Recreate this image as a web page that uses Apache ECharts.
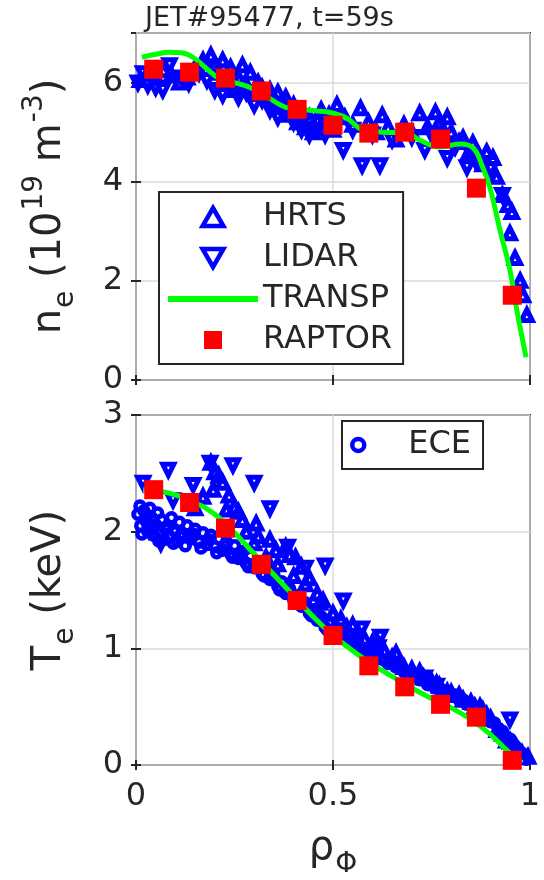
<!DOCTYPE html>
<html>
<head>
<meta charset="utf-8">
<title>JET#95477 profiles</title>
<script src="https://cdn.jsdelivr.net/npm/echarts@6/dist/echarts.min.js"></script>
<style>
  html, body { margin: 0; padding: 0; background: #fff; }
  #chart { width: 544px; height: 880px; }
</style>
</head>
<body>
<div id="chart"></div>
<script>
// ---- n_e panel (10^19 m^-3) ----
var hrtsNeRho = [0.01, 0.03, 0.05, 0.07, 0.09, 0.11, 0.13, 0.15, 0.17, 0.19, 0.20, 0.21, 0.22, 0.23, 0.24, 0.25, 0.26, 0.27, 0.28, 0.29, 0.30, 0.31, 0.32, 0.33, 0.34, 0.35, 0.36, 0.37, 0.38, 0.39, 0.40, 0.41, 0.42, 0.43, 0.44, 0.45, 0.46, 0.47, 0.48, 0.49, 0.50, 0.51, 0.53, 0.55, 0.57, 0.59, 0.61, 0.625, 0.64, 0.66, 0.68, 0.70, 0.72, 0.74, 0.76, 0.77, 0.79, 0.80, 0.82, 0.83, 0.845, 0.855, 0.87, 0.88, 0.89, 0.906, 0.915, 0.93, 0.944, 0.954, 0.949, 0.962, 0.975, 0.982, 0.992];
var hrtsNe    = [6.05, 6.2, 6.1, 6.25, 6.15, 6.0, 6.1, 6.3, 6.45, 6.55, 6.35, 6.2, 6.45, 6.0, 6.3, 5.85, 6.1, 6.35, 5.95, 6.2, 5.8, 6.0, 5.9, 5.7, 5.85, 5.6, 5.8, 5.5, 5.7, 5.35, 5.55, 5.2, 5.4, 5.1, 5.3, 5.0, 5.25, 5.45, 5.15, 5.35, 5.05, 5.55, 5.3, 5.15, 5.48, 5.2, 5.0, 5.34, 5.1, 4.85, 5.15, 5.0, 5.38, 5.1, 5.4, 5.2, 5.3, 5.0, 4.8, 4.88, 4.6, 4.78, 4.5, 4.35, 4.6, 4.48, 4.1, 3.73, 3.53, 3.39, 2.96, 2.46, 2.0, 1.71, 1.31];

var lidarNeRho = [0.005, 0.018, 0.03, 0.05, 0.068, 0.085, 0.10, 0.134, 0.16, 0.18, 0.20, 0.22, 0.24, 0.26, 0.28, 0.30, 0.32, 0.34, 0.36, 0.38, 0.40, 0.42, 0.44, 0.46, 0.48, 0.526, 0.55, 0.574, 0.60, 0.619, 0.65, 0.70, 0.733, 0.75, 0.79, 0.81, 0.84, 0.86, 0.90, 0.93];
var lidarNe    = [6.0, 6.19, 5.95, 5.9, 5.85, 6.35, 6.1, 5.99, 6.2, 6.05, 5.85, 5.75, 5.95, 5.7, 5.8, 5.55, 5.65, 5.45, 5.3, 5.5, 5.2, 5.05, 4.95, 5.2, 4.95, 4.64, 5.05, 4.33, 4.95, 4.33, 4.85, 4.9, 4.64, 4.95, 4.48, 4.7, 4.29, 4.45, 4.25, 3.73];

var transpNeRho = [0.015, 0.05, 0.084, 0.115, 0.145, 0.178, 0.21, 0.254, 0.287, 0.337, 0.38, 0.44, 0.49, 0.535, 0.577, 0.627, 0.688, 0.72, 0.77, 0.822, 0.856, 0.88, 0.898, 0.924, 0.949, 0.968, 0.99];
var transpNe    = [6.51, 6.57, 6.61, 6.6, 6.51, 6.29, 6.09, 5.99, 5.91, 5.69, 5.5, 5.44, 5.40, 5.28, 5.04, 5.0, 4.98, 4.84, 4.70, 4.76, 4.68, 4.29, 3.89, 3.02, 2.22, 1.35, 0.46];

var raptorRho = [0.045, 0.136, 0.227, 0.318, 0.409, 0.5, 0.591, 0.682, 0.773, 0.864, 0.955];
var raptorNe  = [6.27, 6.21, 6.09, 5.83, 5.46, 5.14, 4.98, 5.0, 4.86, 3.87, 1.71];

// ---- T_e panel (keV) ----
var eceRho = [0.005, 0.01, 0.012, 0.02, 0.025, 0.03, 0.035, 0.04, 0.045, 0.05, 0.055, 0.06, 0.065, 0.07, 0.08, 0.085, 0.09, 0.1, 0.105, 0.11, 0.12, 0.13, 0.14, 0.15, 0.16, 0.17, 0.18, 0.19, 0.2, 0.21, 0.22, 0.23, 0.24, 0.25, 0.26, 0.27, 0.28, 0.29, 0.3, 0.31, 0.32, 0.33, 0.34, 0.35, 0.36, 0.37, 0.38, 0.39, 0.4, 0.41, 0.42, 0.43, 0.44, 0.45, 0.46, 0.47, 0.48, 0.49, 0.5, 0.52, 0.54, 0.56, 0.58, 0.6, 0.62, 0.64, 0.66, 0.68, 0.7, 0.72, 0.74, 0.76, 0.78, 0.8, 0.82, 0.84, 0.86, 0.88, 0.9, 0.92, 0.94, 0.96, 0.975, 0.99,
              0.015, 0.028, 0.042, 0.058, 0.075, 0.095, 0.115, 0.125, 0.145, 0.165, 0.185, 0.205, 0.225, 0.245, 0.265, 0.285, 0.305, 0.325, 0.345, 0.365, 0.385, 0.405, 0.425, 0.445, 0.465, 0.485, 0.51, 0.53, 0.55, 0.57, 0.59, 0.61, 0.63, 0.65, 0.67, 0.69, 0.71, 0.73, 0.75, 0.77, 0.79, 0.81, 0.83, 0.85, 0.87, 0.89, 0.91, 0.93, 0.95, 0.965, 0.98];
var eceTe  = [2.15, 2.22, 2.05, 2.18, 2.1, 2.0, 2.2, 2.12, 1.97, 2.06, 2.16, 1.99, 2.1, 1.93, 2.05, 1.96, 2.12, 2.0, 1.92, 2.08, 1.97, 2.05, 1.94, 2.02, 1.91, 1.99, 1.89, 1.97, 1.87, 1.94, 1.84, 1.91, 1.81, 1.88, 1.77, 1.83, 1.73, 1.79, 1.69, 1.74, 1.64, 1.69, 1.59, 1.63, 1.53, 1.57, 1.47, 1.51, 1.42, 1.45, 1.36, 1.39, 1.3, 1.33, 1.24, 1.27, 1.18, 1.21, 1.13, 1.12, 1.06, 1.03, 0.98, 0.95, 0.91, 0.87, 0.84, 0.8, 0.77, 0.73, 0.69, 0.66, 0.63, 0.59, 0.56, 0.52, 0.48, 0.43, 0.37, 0.31, 0.24, 0.17, 0.11, 0.05,
              1.98, 2.14, 2.04, 1.92, 2.02, 1.9, 1.98, 1.88, 1.98, 1.86, 1.93, 1.82, 1.88, 1.78, 1.8, 1.7, 1.72, 1.62, 1.62, 1.5, 1.5, 1.4, 1.38, 1.28, 1.26, 1.16, 1.16, 1.1, 1.07, 1.0, 0.99, 0.94, 0.9, 0.88, 0.83, 0.8, 0.76, 0.73, 0.7, 0.66, 0.63, 0.6, 0.56, 0.52, 0.47, 0.42, 0.36, 0.29, 0.22, 0.15, 0.1];

var hrtsTeRho = [0.15, 0.17, 0.19, 0.196, 0.2, 0.21, 0.22, 0.23, 0.236, 0.25, 0.26, 0.27, 0.28, 0.3, 0.305, 0.31, 0.33, 0.34, 0.355, 0.36, 0.38, 0.39, 0.4, 0.405, 0.42, 0.43, 0.44, 0.46, 0.467, 0.475, 0.5, 0.52, 0.535, 0.55, 0.56, 0.58, 0.6, 0.61, 0.63, 0.65, 0.66, 0.67, 0.68, 0.7, 0.72, 0.73, 0.75, 0.763, 0.77, 0.79, 0.8, 0.82, 0.83, 0.85, 0.86, 0.873, 0.88, 0.89, 0.9, 0.916, 0.93, 0.94, 0.95, 0.966, 0.98, 0.995];
var hrtsTe    = [2.2, 2.3, 2.59, 2.36, 2.51, 2.48, 2.42, 2.19, 2.31, 2.21, 2.17, 2.1, 2.0, 1.9, 2.07, 1.96, 1.78, 1.93, 1.84, 1.72, 1.87, 1.8, 1.62, 1.78, 1.7, 1.55, 1.6, 1.47, 1.39, 1.41, 1.3, 1.25, 1.18, 1.2, 1.10, 1.08, 1.05, 1.0, 0.98, 0.92, 0.96, 0.87, 0.84, 0.82, 0.8, 0.75, 0.72, 0.70, 0.68, 0.63, 0.62, 0.6, 0.56, 0.54, 0.5, 0.5, 0.47, 0.43, 0.4, 0.3, 0.27, 0.21, 0.2, 0.15, 0.1, 0.07];

var lidarTeRho = [0.018, 0.033, 0.063, 0.082, 0.094, 0.135, 0.145, 0.188, 0.246, 0.3, 0.34, 0.385, 0.43, 0.48, 0.526, 0.573, 0.615, 0.62, 0.733, 0.763, 0.949];
var lidarTe    = [2.42, 2.01, 1.9, 2.53, 2.27, 1.94, 2.4, 2.59, 2.57, 2.42, 2.2, 1.87, 1.69, 1.71, 1.41, 1.17, 1.01, 1.1, 0.75, 0.68, 0.39];

var transpTeRho = [0.018, 0.084, 0.15, 0.2, 0.25, 0.3, 0.35, 0.4, 0.45, 0.5, 0.55, 0.6, 0.65, 0.7, 0.75, 0.8, 0.85, 0.9, 0.94, 0.98];
var transpTe    = [2.36, 2.33, 2.25, 2.15, 1.99, 1.81, 1.63, 1.45, 1.27, 1.11, 0.98, 0.86, 0.76, 0.66, 0.57, 0.49, 0.39, 0.26, 0.13, 0.02];

var raptorTe = [2.36, 2.25, 2.03, 1.72, 1.41, 1.11, 0.85, 0.67, 0.52, 0.41, 0.04];

var xTicks = [0, 0.5, 1];

function pairs(xs, ys) {
  return xs.map(function (x, i) { return [x, ys[i]]; });
}

var ink = '#262626';
var blue = '#0000ff';
var font = 'DejaVu Sans';

var myChart = echarts.init(document.getElementById('chart'));

var grids = [
  { left: 136, top: 33, width: 394, height: 347 },
  { left: 136, top: 415, width: 394, height: 350 }
];
grids.forEach(function (g) {
  g.show = true;
  g.borderColor = ink;
  g.borderWidth = 2;
  g.backgroundColor = '#fff';
});

// sub/superscripts for axis names
var nameRich = {
  a: { fontSize: 40, lineHeight: 40, color: ink, verticalAlign: 'bottom', padding: [0, 0, 10, 0], fontFamily: font },
  b: { fontSize: 28, lineHeight: 28, color: ink, verticalAlign: 'bottom', padding: [0, 0, 0, 1], fontFamily: font },
  c: { fontSize: 28, lineHeight: 28, color: ink, verticalAlign: 'bottom', padding: [0, 0, 31, 1], fontFamily: font }
};

function xAxisFor(gridIndex, showLabels, pos) {
  return {
    type: 'value',
    gridIndex: gridIndex,
    position: pos,
    min: 0, max: 1, interval: 0.5,
    axisLine: { show: false },
    axisTick: { show: true, inside: true, length: 5, lineStyle: { color: ink, width: 2 } },
    axisLabel: {
      show: showLabels, fontSize: 32, color: ink, margin: 16, fontFamily: font,
      formatter: function (v) { return xTicks.indexOf(v) >= 0 ? String(v) : ''; }
    },
    splitLine: { show: pos === 'bottom', lineStyle: { color: '#dadada', width: 1.5 } },
    name: showLabels ? '{a|ρ}{b|Φ}' : '',
    nameLocation: 'middle',
    nameGap: 74,
    nameTextStyle: { rich: nameRich }
  };
}

function yAxisFor(gridIndex, max, step, pos, name) {
  return {
    type: 'value',
    gridIndex: gridIndex,
    position: pos,
    min: 0, max: max, interval: step,
    axisLine: { show: false },
    axisTick: { show: true, inside: true, length: 5, lineStyle: { color: ink, width: 2 } },
    axisLabel: { show: pos === 'left', fontSize: 32, color: ink, margin: 13, showMaxLabel: max % step === 0, fontFamily: font },
    splitLine: { show: pos === 'left', lineStyle: { color: '#dadada', width: 1.5 } },
    name: name || '',
    nameLocation: 'middle',
    nameGap: 56,
    nameTextStyle: { rich: nameRich }
  };
}

// MATLAB-like open markers: thick blue edge, small hole
var openMarker = { color: 'rgba(0,0,0,0)', borderColor: blue, borderWidth: 5, opacity: 1 };

var option = {
  animation: false,
  backgroundColor: '#fff',
  textStyle: { fontFamily: font },
  title: {
    text: 'JET#95477, t=59s',
    left: 140, top: 0,
    textStyle: { fontSize: 27, fontWeight: 'normal', color: ink, fontFamily: font }
  },
  grid: grids,
  xAxis: [
    xAxisFor(0, false, 'bottom'),
    xAxisFor(0, false, 'top'),
    xAxisFor(1, true, 'bottom'),
    xAxisFor(1, false, 'top')
  ],
  yAxis: [
    yAxisFor(0, 7, 2, 'left', '{a|n}{b|e}{a| (10}{c|19}{a| m}{c|-3}{a|)}'),
    yAxisFor(0, 7, 2, 'right'),
    yAxisFor(1, 3, 1, 'left', '{a|T}{b|e}{a| (keV)}'),
    yAxisFor(1, 3, 1, 'right')
  ],
  legend: [
    {
      data: [
        { name: 'HRTS', icon: 'path://M5,0L10,8.66L0,8.66Z', itemStyle: { color: 'rgba(0,0,0,0)', borderColor: blue, borderWidth: 4.5, opacity: 1 } },
        { name: 'LIDAR', icon: 'path://M0,0L10,0L5,8.66Z', itemStyle: { color: 'rgba(0,0,0,0)', borderColor: blue, borderWidth: 4.5, opacity: 1 } },
        { name: 'TRANSP', icon: 'path://M0,0H90V6H0Z', itemStyle: { color: '#00ff00', borderWidth: 0, opacity: 1 } },
        { name: 'RAPTOR', icon: 'path://M0,0H10V10H0Z', itemStyle: { color: '#ff0000', borderWidth: 0, opacity: 1 } }
      ],
      orient: 'vertical',
      left: 159, top: 192,
      padding: [9, 11, 8, 9],
      itemGap: 9, itemWidth: 90, itemHeight: 18,
      symbolKeepAspect: true,
      selectedMode: false,
      backgroundColor: '#fff',
      borderColor: ink, borderWidth: 2,
      textStyle: { fontSize: 32, color: ink, fontFamily: font }
    },
    {
      data: [{ name: 'ECE', icon: 'circle', itemStyle: { color: 'rgba(0,0,0,0)', borderColor: blue, borderWidth: 4.5, opacity: 1 } }],
      orient: 'vertical',
      left: 342, top: 421,
      padding: [8, 12, 8, 8],
      itemWidth: 90, itemHeight: 12,
      symbolKeepAspect: true,
      selectedMode: false,
      backgroundColor: '#fff',
      borderColor: ink, borderWidth: 2,
      textStyle: { fontSize: 32, color: ink, fontFamily: font }
    }
  ],
  series: [
    { name: 'HRTS', type: 'scatter', xAxisIndex: 0, yAxisIndex: 0, symbol: 'triangle', symbolSize: 11,
      itemStyle: openMarker, data: pairs(hrtsNeRho, hrtsNe), z: 2 },
    { name: 'LIDAR', type: 'scatter', xAxisIndex: 0, yAxisIndex: 0, symbol: 'triangle', symbolRotate: 180, symbolSize: 11,
      itemStyle: openMarker, data: pairs(lidarNeRho, lidarNe), z: 2 },
    { name: 'TRANSP', type: 'line', xAxisIndex: 0, yAxisIndex: 0, symbol: 'none', showSymbol: false, smooth: 0.4,
      lineStyle: { color: '#00ff00', width: 5 }, itemStyle: { color: '#00ff00' }, data: pairs(transpNeRho, transpNe), z: 3 },
    { name: 'RAPTOR', type: 'scatter', xAxisIndex: 0, yAxisIndex: 0, symbol: 'rect', symbolSize: 19,
      itemStyle: { color: '#ff0000', opacity: 1 }, data: pairs(raptorRho, raptorNe), z: 4 },

    { name: 'ECE', type: 'scatter', xAxisIndex: 2, yAxisIndex: 2, symbol: 'circle', symbolSize: 9,
      itemStyle: { color: 'rgba(0,0,0,0)', borderColor: blue, borderWidth: 4.5, opacity: 1 }, data: pairs(eceRho, eceTe), z: 2 },
    { name: 'HRTS', type: 'scatter', xAxisIndex: 2, yAxisIndex: 2, symbol: 'triangle', symbolSize: 11,
      itemStyle: openMarker, data: pairs(hrtsTeRho, hrtsTe), z: 2 },
    { name: 'LIDAR', type: 'scatter', xAxisIndex: 2, yAxisIndex: 2, symbol: 'triangle', symbolRotate: 180, symbolSize: 11,
      itemStyle: openMarker, data: pairs(lidarTeRho, lidarTe), z: 2 },
    { name: 'TRANSP', type: 'line', xAxisIndex: 2, yAxisIndex: 2, symbol: 'none', showSymbol: false, smooth: 0.3,
      lineStyle: { color: '#00ff00', width: 5 }, itemStyle: { color: '#00ff00' }, data: pairs(transpTeRho, transpTe), z: 3 },
    { name: 'RAPTOR', type: 'scatter', xAxisIndex: 2, yAxisIndex: 2, symbol: 'rect', symbolSize: 19,
      itemStyle: { color: '#ff0000', opacity: 1 }, data: pairs(raptorRho, raptorTe), z: 4 }
  ]
};

myChart.setOption(option);
</script>
</body>
</html>
